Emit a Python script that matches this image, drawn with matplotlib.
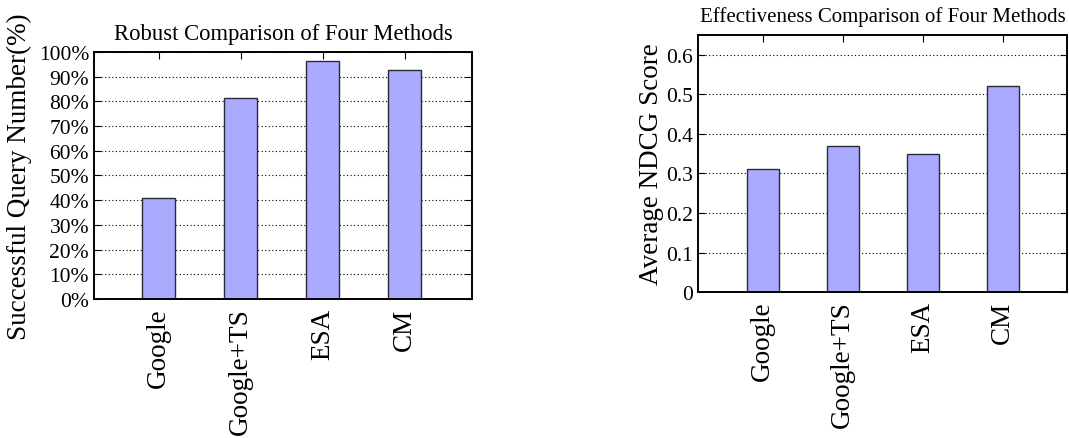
import numpy as np
import matplotlib
matplotlib.use('Agg')
import matplotlib.pyplot as plt
from matplotlib.ticker import FuncFormatter

methods = ['Google', 'Google+TS', 'ESA', 'CM']
success_pct = [40.8, 81.5, 96.2, 92.7]
ndcg_score = [0.31, 0.37, 0.35, 0.52]

plt.rcParams['font.family'] = ['Liberation Serif', 'DejaVu Serif']

bar_color = '#aaaaff'
edge_color = '#2a2a3a'


def style_axes(ax):
    for s in ax.spines.values():
        s.set_linewidth(1.4)
    ax.set_axisbelow(True)
    ax.yaxis.grid(True, color='black', linestyle=(0, (1, 2.2)), linewidth=0.8)
    ax.tick_params(axis='both', direction='in', length=5, width=0.8,
                   top=True, right=True, labelsize=15.5)
    ax.tick_params(axis='x', labelsize=19.5, pad=6)
    for lbl in ax.get_xticklabels():
        lbl.set_rotation(90)
        lbl.set_ha('center')
        lbl.set_va('top')


fig = plt.figure(figsize=(10.69, 4.39), dpi=100)

# left: robustness
ax1 = fig.add_axes([0.0879, 0.3166, 0.3536, 0.5627])
x = np.arange(len(methods))
ax1.bar(x, success_pct, width=0.4, color=bar_color, edgecolor=edge_color, linewidth=1)
ax1.set_xlim(-0.79, 3.82)
ax1.set_ylim(0, 100)
ax1.set_yticks(np.arange(0, 101, 10))
ax1.yaxis.set_major_formatter(FuncFormatter(lambda v, p: '%d%%' % v))
ax1.set_xticks(x)
ax1.set_xticklabels(methods)
style_axes(ax1)
ax1.set_title('Robust Comparison of Four Methods', fontsize=16.3, pad=9)
ax1.set_ylabel('Successful Query Number(%)', fontsize=19.5, va='center')
ax1.yaxis.set_label_coords(-0.196, 0.5)

# right: effectiveness
ax2 = fig.add_axes([0.653, 0.3319, 0.345, 0.5868])
ax2.bar(x, ndcg_score, width=0.4, color=bar_color, edgecolor=edge_color, linewidth=1)
ax2.set_xlim(-0.81, 3.80)
ax2.set_ylim(0, 0.65)
ax2.set_yticks(np.arange(0, 0.61, 0.1))
ax2.yaxis.set_major_formatter(FuncFormatter(lambda v, p: '0' if abs(v) < 1e-9 else '%.1f' % v))
ax2.set_xticks(x)
ax2.set_xticklabels(methods)
style_axes(ax2)
ax2.set_title('Effectiveness Comparison of Four Methods', fontsize=15, pad=10)
ax2.set_ylabel('Average NDCG Score', fontsize=19.5, va='center')
ax2.yaxis.set_label_coords(-0.125, 0.5)

fig.savefig('out.png', dpi=100)
